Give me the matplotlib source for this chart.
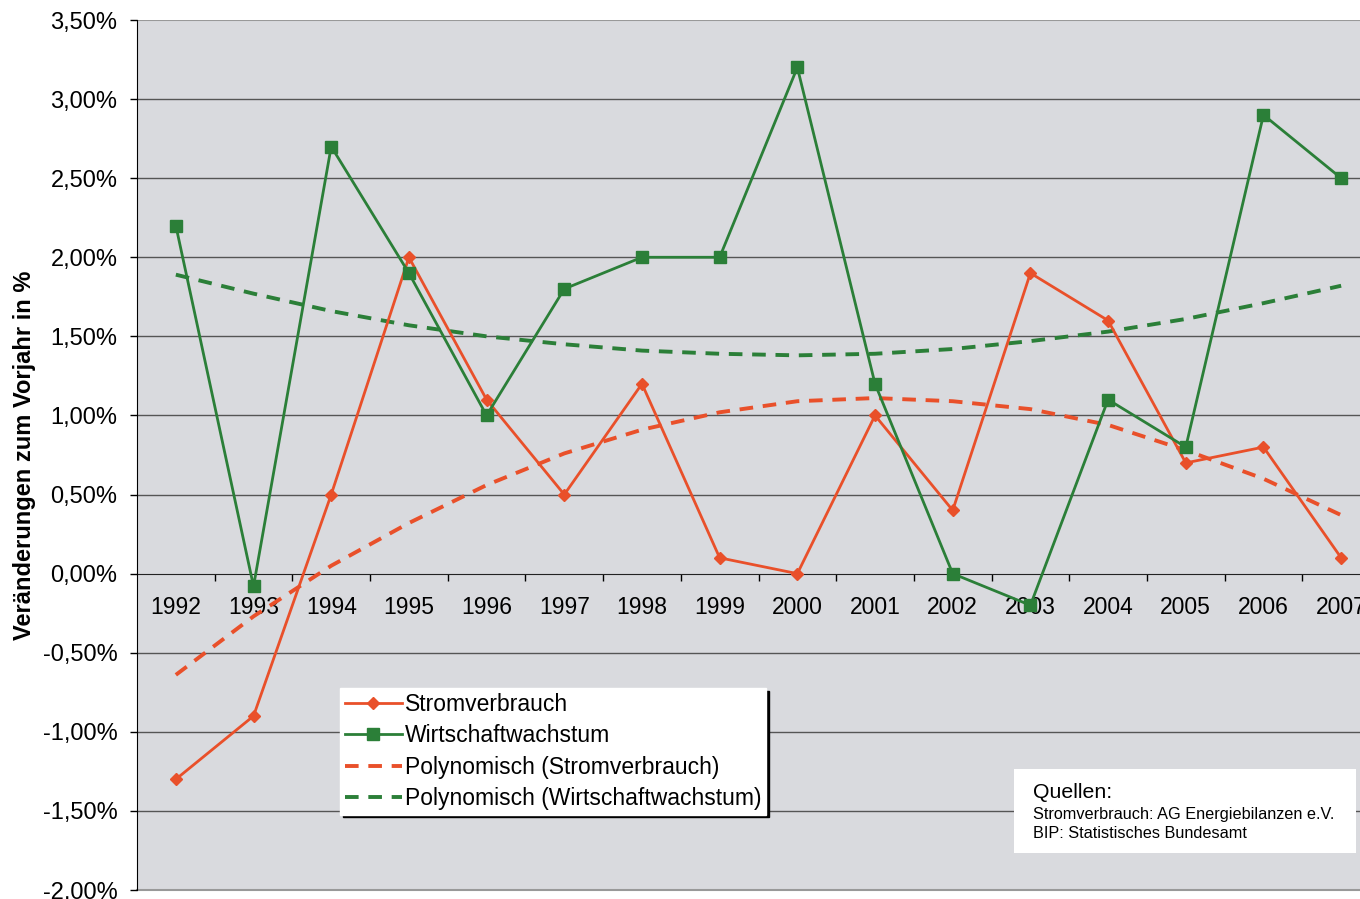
import numpy as np
import matplotlib
matplotlib.use('Agg')
from matplotlib import pyplot as plt
from matplotlib.ticker import FixedLocator, FuncFormatter
from matplotlib.patches import Rectangle

plt.rcParams['font.family'] = ['Liberation Sans', 'DejaVu Sans']

# Daten
jahre = ['1992', '1993', '1994', '1995', '1996', '1997', '1998', '1999',
         '2000', '2001', '2002', '2003', '2004', '2005', '2006', '2007']
strom = [-1.3, -0.9, 0.5, 2.0, 1.1, 0.5, 1.2, 0.1,
         0.0, 1.0, 0.4, 1.9, 1.6, 0.7, 0.8, 0.1]
wirtschaft = [2.2, -0.08, 2.7, 1.9, 1.0, 1.8, 2.0, 2.0,
              3.2, 1.2, 0.0, -0.2, 1.1, 0.8, 2.9, 2.5]
# Trendlinien
trend_strom = [-0.64, -0.27, 0.05, 0.32, 0.56, 0.76, 0.91, 1.02,
               1.09, 1.11, 1.09, 1.04, 0.94, 0.78, 0.60, 0.37]
trend_wirtschaft = [1.89, 1.77, 1.66, 1.57, 1.50, 1.45, 1.41, 1.39,
                    1.38, 1.39, 1.42, 1.47, 1.53, 1.61, 1.71, 1.82]

orange = '#E9502A'
gruen = '#2B7F38'

fig = plt.figure(figsize=(13.6, 8.99), dpi=100)
ax = fig.add_axes([137 / 1360, 1 - 890 / 899, 1243 / 1360, 870 / 899])
ax.set_facecolor('#D9DADE')

x = np.arange(len(jahre))

ax.plot(x, trend_strom, color=orange, lw=2.8, linestyle=(0, (3.5, 2.5)),
        label='Polynomisch (Stromverbrauch)', zorder=3)
ax.plot(x, trend_wirtschaft, color=gruen, lw=2.8, linestyle=(0, (3.5, 2.5)),
        label='Polynomisch (Wirtschaftwachstum)', zorder=3)
ax.plot(x, strom, color=orange, lw=2.0, marker='D', markersize=6.5,
        label='Stromverbrauch', zorder=4)
ax.plot(x, wirtschaft, color=gruen, lw=2.0, marker='s', markersize=8,
        label='Wirtschaftwachstum', zorder=4)

ax.set_xlim(-0.5, 15.5)
ax.set_ylim(-2.0, 3.5)

# Gitterlinien
for g in np.arange(-1.5, 3.01, 0.5):
    if abs(g) > 1e-9:
        ax.axhline(g, color='#555555', lw=1.0, zorder=1)

# Achsen
for s in ['top', 'right']:
    ax.spines[s].set_visible(False)
ax.spines['bottom'].set_position(('data', 0))
ax.spines['bottom'].set_color('#222222')
ax.spines['bottom'].set_zorder(2)
ax.spines['left'].set_color('black')
ax.axhline(3.5, color='#999999', lw=1.5, zorder=1)
ax.axhline(-2.0, color='#999999', lw=1.5, zorder=1, clip_on=False)

yt = np.arange(-2.0, 3.51, 0.5)
ax.set_yticks(yt)
ax.yaxis.set_major_formatter(FuncFormatter(lambda v, p: ('%.2f%%' % v).replace('.', ',')))
ax.tick_params(axis='y', labelsize=17, length=5, width=1, pad=9)

ax.set_xticks(x)
ax.set_xticklabels(jahre)
ax.xaxis.set_minor_locator(FixedLocator(np.arange(0.5, 15, 1)))
ax.tick_params(axis='x', which='major', labelsize=16.5, length=0, pad=16)
ax.tick_params(axis='x', which='minor', length=5, width=1, direction='out')

fig.text(25 / 1360, 1 - 455 / 899, 'Veränderungen zum Vorjahr in %', rotation=90,
         fontsize=17, fontweight='bold', ha='center', va='center')

# Legende
handles, labels = ax.get_legend_handles_labels()
order = [2, 3, 0, 1]
leg = ax.legend([handles[i] for i in order], [labels[i] for i in order],
                loc='upper left', bbox_to_anchor=(340 / 1360, 1 - 688 / 899),
                bbox_transform=fig.transFigure, fontsize=16.5, frameon=True,
                fancybox=False, borderaxespad=0, borderpad=0.2,
                handlelength=2.5, handletextpad=0.15, labelspacing=0.37,
                shadow={'color': 'black', 'alpha': 1.0})
leg.get_frame().set_facecolor('white')
leg.get_frame().set_edgecolor('white')
leg.get_frame().set_alpha(1)

# Quellen-Box
fig.patches.append(Rectangle((1014 / 1360, 1 - 853 / 899), 342 / 1360, 84 / 899,
                             transform=fig.transFigure, facecolor='white',
                             edgecolor='none', zorder=5))
fig.text(1033 / 1360, 1 - 793 / 899, 'Quellen:', fontsize=15.3, va='center', zorder=6)
fig.text(1033 / 1360, 1 - 814 / 899, 'Stromverbrauch: AG Energiebilanzen e.V.',
         fontsize=11.7, va='center', zorder=6)
fig.text(1033 / 1360, 1 - 833 / 899, 'BIP: Statistisches Bundesamt',
         fontsize=11.7, va='center', zorder=6)

fig.savefig('out.png', dpi=100, facecolor='white')
